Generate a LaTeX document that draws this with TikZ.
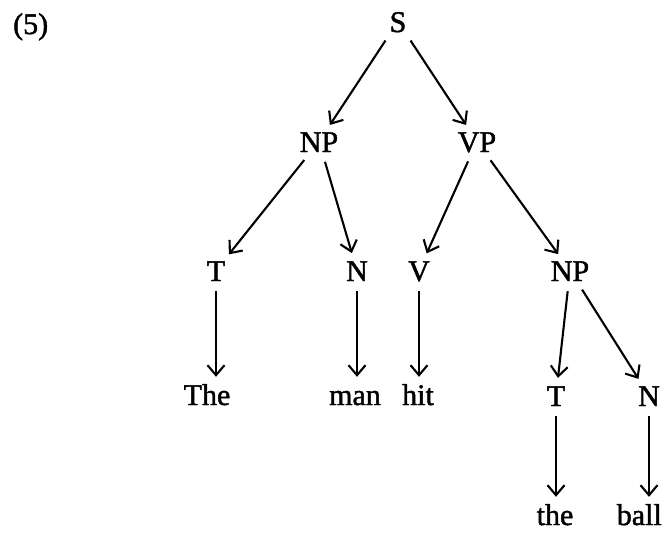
\documentclass[tikz,border=0pt]{standalone}
\usepackage{fontspec}
\setmainfont{Liberation Serif}
\newfontfamily\treefont[FakeBold=1.5]{Liberation Serif}
\usetikzlibrary{arrows.meta}

\tikzset{
  lbl/.style={anchor=base, inner sep=0pt, text height=21pt, text depth=0pt,
              font=\treefont\fontsize{30}{36}\selectfont},
  edge/.style={-{Straight Barb[length=10pt,width=17pt]}, line width=2.1pt,
               shorten <=10pt, shorten >=7pt},
}

\begin{document}
\begin{tikzpicture}[x=1pt, y=-1pt]
  \useasboundingbox (0,0) rectangle (664,533);

  % example number
  \node[lbl, anchor=base west] (num) at (13,34) {(5)};

  % tree nodes, placed by baseline
  \node[lbl] (s)   at (398,32)  {S};
  \node[lbl] (np1) at (319,152) {NP};
  \node[lbl] (vp)  at (477,152) {VP};
  \node[lbl] (t1)  at (216,281) {T};
  \node[lbl] (n1)  at (357,281) {N};
  \node[lbl] (v)   at (419,281) {V};
  \node[lbl] (np2) at (570,281) {NP};
  \node[lbl] (w1)  at (207,405) {The};
  \node[lbl] (w2)  at (355,405) {man};
  \node[lbl] (w3)  at (418,405) {hit};
  \node[lbl] (t2)  at (556,406) {T};
  \node[lbl] (n2)  at (649,406) {N};
  \node[lbl] (w4)  at (555,525) {the};
  \node[lbl, anchor=base east] (w5) at (662,525) {ball};

  % branches
  \draw[edge] (s) -- (np1);
  \draw[edge] (s) -- (vp);
  \draw[edge] (np1) -- (t1);
  \draw[edge] (np1) -- (n1);
  \draw[edge] (vp) -- (v);
  \draw[edge] (vp) -- (np2);
  \draw[edge] (np2) -- (t2);
  \draw[edge] (np2) -- (n2);

  % lexical rewrites
  \draw[edge] (t1.south) -- (t1.south |- w1.north);
  \draw[edge] (n1.south) -- (n1.south |- w2.north);
  \draw[edge] (v.south)  -- (v.south |- w3.north);
  \draw[edge] (t2.south) -- (t2.south |- w4.north);
  \draw[edge] (n2.south) -- (n2.south |- w5.north);
\end{tikzpicture}
\end{document}
